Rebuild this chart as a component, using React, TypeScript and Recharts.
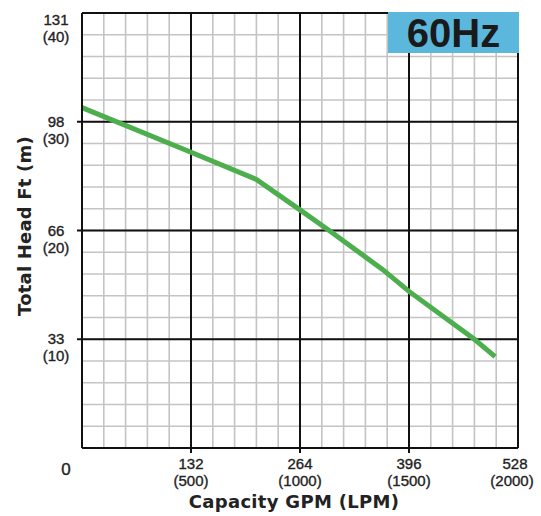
import React from "react";
import {
  LineChart,
  Line,
  XAxis,
  YAxis,
  CartesianGrid,
  ReferenceLine,
  Label,
} from "recharts";

// capacity in LPM and head in m
const flowLpm = [0, 500, 800, 1000, 1140, 1380, 1500, 1800, 1895];
const headM = [31.3, 27.2, 24.7, 21.9, 19.9, 16.4, 14.4, 10.0, 8.4];

const xGrid = [0, 100, 200, 300, 400, 500, 600, 700, 800, 900, 1000, 1100, 1200, 1300, 1400, 1500, 1600, 1700, 1800, 1900, 2000];
const yGrid = [0, 2, 4, 6, 8, 10, 12, 14, 16, 18, 20, 22, 24, 26, 28, 30, 32, 34, 36, 38, 40];

const xMajor = [500, 1000, 1500];
const yMajor = [10, 20, 30];

const xLpmLabels = [500, 1000, 1500, 2000];
const xGpmLabels = ["132", "264", "396", "528"];
const yMLabels = [10, 20, 30, 40];
const yFtLabels = ["33", "66", "98", "131"];

const data = flowLpm.map((f, i) => ({ flow: f, head: headM[i] }));

const tickFont = "'Liberation Sans', Arial, sans-serif";
const titleFont = "'DejaVu Sans', sans-serif";

const tickText = {
  fontFamily: tickFont,
  fontSize: 15,
  fill: "#222",
  stroke: "#222",
  strokeWidth: 0.35,
};

function XTick(props: any) {
  const { x, y, payload } = props;
  const v = payload.value;
  if (v === 0) {
    return (
      <text x={x - 16} y={y + 27} textAnchor="middle" {...tickText} fontSize={17}>
        0
      </text>
    );
  }
  const idx = xLpmLabels.indexOf(v);
  if (idx < 0) return null;
  const last = v === 2000;
  return (
    <g>
      {!last && <line x1={x} y1={y} x2={x} y2={y + 5} stroke="#111" strokeWidth={2} />}
      <text x={x - (last ? 3 : 0)} y={y + 21} textAnchor="middle" {...tickText}>
        {xGpmLabels[idx]}
      </text>
      <text x={x - (last ? 6 : 0)} y={y + 38} textAnchor="middle" {...tickText}>
        ({v})
      </text>
    </g>
  );
}

function YTick(props: any) {
  const { x, y, payload } = props;
  const v = payload.value;
  const idx = yMLabels.indexOf(v);
  if (idx < 0) return null;
  const top = v === 40;
  const shift = top ? 7 : 0;
  return (
    <g>
      {!top && <line x1={x - 5} y1={y} x2={x} y2={y} stroke="#111" strokeWidth={2} />}
      <text x={x - 26} y={y + 5 + shift} textAnchor="middle" {...tickText}>
        {yFtLabels[idx]}
      </text>
      <text x={x - 26} y={y + 22 + shift} textAnchor="middle" {...tickText}>
        ({v})
      </text>
    </g>
  );
}

export default function App() {
  return (
    <div style={{ position: "absolute", left: 0, top: 0, width: 541, height: 516, background: "#fff" }}>
      <LineChart
        width={541}
        height={516}
        data={data}
        margin={{ top: 13, right: 23, bottom: 8, left: 22 }}
      >
        <CartesianGrid stroke="#c4c4c4" strokeWidth={1.6} />
        <XAxis
          dataKey="flow"
          type="number"
          domain={[0, 2000]}
          ticks={xGrid}
          interval={0}
          height={60}
          tickSize={0}
          tickMargin={0}
          tickLine={false}
          axisLine={{ stroke: "#111", strokeWidth: 2 }}
          tick={<XTick />}
        >
          <Label
            content={(p: any) => {
              const vb = p.viewBox;
              return (
                <text
                  x={vb.x + vb.width / 2 - 6}
                  y={vb.y + 60}
                  textAnchor="middle"
                  fontFamily={titleFont}
                  fontWeight="bold"
                  fontSize={18}
                  letterSpacing={0.3}
                  fill="#222"
                >
                  Capacity GPM (LPM)
                </text>
              );
            }}
          />
        </XAxis>
        <YAxis
          type="number"
          domain={[0, 40]}
          ticks={yGrid}
          interval={0}
          width={60}
          tickSize={0}
          tickMargin={0}
          tickLine={false}
          axisLine={{ stroke: "#111", strokeWidth: 2 }}
          tick={<YTick />}
        >
          <Label
            content={() => (
              <text
                x={31}
                y={226}
                transform="rotate(-90, 31, 226)"
                textAnchor="middle"
                fontFamily={titleFont}
                fontWeight="bold"
                fontSize={18}
                letterSpacing={0.2}
                fill="#222"
              >
                Total Head Ft (m)
              </text>
            )}
          />
        </YAxis>
        {xMajor.map((v) => (
          <ReferenceLine key={"x" + v} x={v} stroke="#111" strokeWidth={2} />
        ))}
        {yMajor.map((v) => (
          <ReferenceLine key={"y" + v} y={v} stroke="#111" strokeWidth={2} />
        ))}
        <ReferenceLine x={2000} stroke="#111" strokeWidth={2} />
        <ReferenceLine y={40} stroke="#111" strokeWidth={2} />
        <Line
          type="linear"
          dataKey="head"
          stroke="#4cae4c"
          strokeWidth={5}
          dot={false}
          isAnimationActive={false}
        />
      </LineChart>
      <div
        style={{
          position: "absolute",
          left: 388,
          top: 12,
          width: 131,
          height: 41,
          background: "#5bb8dc",
          display: "flex",
          alignItems: "center",
          justifyContent: "center",
          fontFamily: "'Liberation Sans', Arial, sans-serif",
          fontWeight: "bold",
          fontSize: 40,
          color: "#1a1a1a",
          lineHeight: 1,
        }}
      >
        60Hz
      </div>
    </div>
  );
}
